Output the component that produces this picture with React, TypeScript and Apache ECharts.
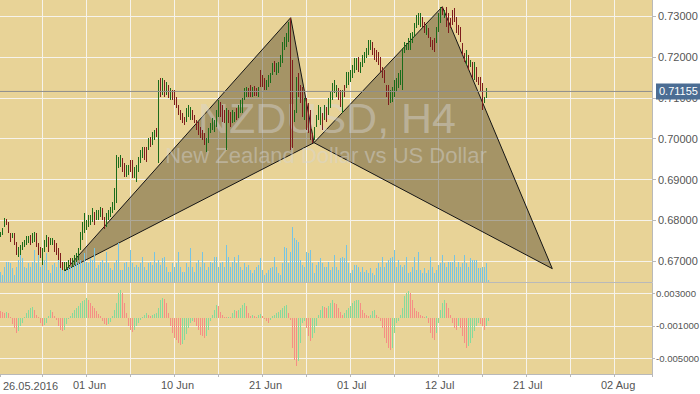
import React, { useEffect, useRef } from "react";
import * as echarts from "echarts";

// ---------------- data (NZDUSD, H4) ----------------
// bar direction: G = up bar, R = down bar (one character per H4 bar)
const barDirection = [
  "GGGRRRGRRG", "GGGGGRGGRR", "RGGGRGGRRR", "RRGGGRGGGG", "GGGGGGGRGG",
  "GRRGGGGGGG", "GRRGGRRGGG", "GGRRGRGGRG", "RGRGRGRRRR", "RRRGGGRRRR",
  "RRRGGGGGGG", "RRRGRRGGRG", "GGGGRRGRRG", "RRRGGGGRGG", "GGGGGRRGGR",
  "RRGRRRRGGG", "GRGRGGGGGR", "RGRGGGGGGR", "GGGGGGRRRR", "RRRRRGGGGG",
  "GGGGGGGGGG", "GRRGRRRRGG", "GRGRRRRRRR", "RRRGRGRGRR", "RRGGG",
].join("");

const barHigh = [
  0.6772, 0.6782, 0.6806, 0.6804, 0.6796, 0.6769, 0.6769, 0.6769, 0.6748, 0.6735,
  0.6740, 0.6748, 0.6753, 0.6762, 0.6762, 0.6765, 0.6769, 0.6772, 0.6769, 0.6745,
  0.6735, 0.6733, 0.6753, 0.6765, 0.6760, 0.6757, 0.6757, 0.6753, 0.6745, 0.6733,
  0.6721, 0.6699, 0.6699, 0.6699, 0.6704, 0.6708, 0.6708, 0.6716, 0.6721, 0.6733,
  0.6772, 0.6796, 0.6818, 0.6801, 0.6814, 0.6814, 0.6831, 0.6821, 0.6826, 0.6826,
  0.6833, 0.6831, 0.6809, 0.6818, 0.6826, 0.6833, 0.6845, 0.6880, 0.6960, 0.6955,
  0.6960, 0.6953, 0.6941, 0.6936, 0.6936, 0.6948, 0.6948, 0.6931, 0.6936, 0.6955,
  0.6972, 0.6980, 0.6980, 0.6980, 0.7002, 0.7004, 0.7016, 0.7021, 0.7026, 0.7143,
  0.7148, 0.7148, 0.7143, 0.7139, 0.7131, 0.7124, 0.7119, 0.7119, 0.7102, 0.7082,
  0.7070, 0.7063, 0.7053, 0.7075, 0.7082, 0.7077, 0.7070, 0.7058, 0.7046, 0.7041,
  0.7029, 0.7021, 0.7014, 0.7002, 0.7026, 0.7038, 0.7051, 0.7046, 0.7070, 0.7095,
  0.7090, 0.7082, 0.7070, 0.7075, 0.7070, 0.7065, 0.7070, 0.7065, 0.7075, 0.7082,
  0.7095, 0.7100, 0.7124, 0.7126, 0.7124, 0.7131, 0.7126, 0.7129, 0.7124, 0.7126,
  0.7168, 0.7156, 0.7148, 0.7143, 0.7156, 0.7161, 0.7185, 0.7190, 0.7185, 0.7188,
  0.7205, 0.7236, 0.7249, 0.7258, 0.7285, 0.7296, 0.7192, 0.7070, 0.7151, 0.7161,
  0.7131, 0.7126, 0.7100, 0.7100, 0.7087, 0.7070, 0.7014, 0.7029, 0.7058, 0.7082,
  0.7077, 0.7063, 0.7082, 0.7077, 0.7100, 0.7114, 0.7136, 0.7143, 0.7131, 0.7124,
  0.7119, 0.7119, 0.7131, 0.7163, 0.7163, 0.7168, 0.7180, 0.7197, 0.7197, 0.7200,
  0.7188, 0.7205, 0.7212, 0.7222, 0.7241, 0.7241, 0.7236, 0.7222, 0.7217, 0.7212,
  0.7200, 0.7175, 0.7168, 0.7131, 0.7131, 0.7119, 0.7126, 0.7143, 0.7148, 0.7161,
  0.7168, 0.7222, 0.7236, 0.7234, 0.7246, 0.7258, 0.7261, 0.7283, 0.7302, 0.7307,
  0.7307, 0.7298, 0.7285, 0.7278, 0.7271, 0.7249, 0.7241, 0.7246, 0.7273, 0.7307,
  0.7322, 0.7322, 0.7315, 0.7322, 0.7307, 0.7295, 0.7315, 0.7320, 0.7298, 0.7278,
  0.7273, 0.7234, 0.7210, 0.7217, 0.7205, 0.7192, 0.7188, 0.7188, 0.7175, 0.7151,
  0.7151, 0.7136, 0.7102, 0.7124, 0.7117,
];

const barLow = [
  0.6760, 0.6765, 0.6784, 0.6789, 0.6769, 0.6748, 0.6757, 0.6740, 0.6716, 0.6711,
  0.6716, 0.6728, 0.6735, 0.6740, 0.6745, 0.6740, 0.6745, 0.6748, 0.6735, 0.6716,
  0.6708, 0.6691, 0.6723, 0.6735, 0.6723, 0.6740, 0.6740, 0.6723, 0.6716, 0.6704,
  0.6684, 0.6679, 0.6677, 0.6679, 0.6684, 0.6691, 0.6686, 0.6691, 0.6699, 0.6704,
  0.6728, 0.6753, 0.6769, 0.6777, 0.6784, 0.6789, 0.6796, 0.6789, 0.6801, 0.6801,
  0.6809, 0.6801, 0.6779, 0.6784, 0.6801, 0.6809, 0.6818, 0.6826, 0.6843, 0.6928,
  0.6931, 0.6919, 0.6906, 0.6906, 0.6911, 0.6919, 0.6904, 0.6904, 0.6894, 0.6919,
  0.6941, 0.6953, 0.6948, 0.6943, 0.6972, 0.6980, 0.6985, 0.6997, 0.7004, 0.6941,
  0.7102, 0.7107, 0.7102, 0.7107, 0.7100, 0.7095, 0.7095, 0.7082, 0.7075, 0.7058,
  0.7046, 0.7038, 0.7034, 0.7041, 0.7053, 0.7046, 0.7046, 0.7038, 0.7021, 0.7009,
  0.7002, 0.6997, 0.6985, 0.6968, 0.6990, 0.7014, 0.7021, 0.7016, 0.7029, 0.7053,
  0.7053, 0.7041, 0.7038, 0.6972, 0.7038, 0.7029, 0.7038, 0.7041, 0.7046, 0.7051,
  0.7063, 0.7063, 0.7095, 0.7102, 0.7102, 0.7102, 0.7102, 0.7104, 0.7104, 0.7102,
  0.7126, 0.7126, 0.7119, 0.7119, 0.7126, 0.7136, 0.7156, 0.7163, 0.7156, 0.7161,
  0.7175, 0.7185, 0.7217, 0.7224, 0.7236, 0.6972, 0.6977, 0.7041, 0.7063, 0.7102,
  0.7087, 0.7053, 0.7046, 0.7021, 0.7014, 0.6997, 0.6990, 0.6997, 0.7029, 0.7046,
  0.7034, 0.7021, 0.7046, 0.7041, 0.7058, 0.7075, 0.7095, 0.7112, 0.7102, 0.7095,
  0.7077, 0.7063, 0.7102, 0.7124, 0.7131, 0.7139, 0.7148, 0.7161, 0.7168, 0.7163,
  0.7161, 0.7175, 0.7185, 0.7197, 0.7205, 0.7217, 0.7205, 0.7192, 0.7188, 0.7180,
  0.7163, 0.7148, 0.7136, 0.7102, 0.7082, 0.7087, 0.7090, 0.7102, 0.7114, 0.7124,
  0.7131, 0.7119, 0.7210, 0.7217, 0.7217, 0.7217, 0.7234, 0.7249, 0.7271, 0.7278,
  0.7273, 0.7273, 0.7258, 0.7254, 0.7246, 0.7224, 0.7217, 0.7212, 0.7234, 0.7261,
  0.7283, 0.7302, 0.7295, 0.7273, 0.7258, 0.7271, 0.7278, 0.7285, 0.7258, 0.7254,
  0.7236, 0.7205, 0.7188, 0.7180, 0.7168, 0.7175, 0.7148, 0.7143, 0.7139, 0.7131,
  0.7114, 0.7070, 0.7087, 0.7100, 0.7115,
];

const tickVolumes = [
  1000, 700, 1500, 2000, 2000, 1900, 1400, 700, 1500, 2200,
  2700, 2400, 1500, 1400, 1900, 1500, 2000, 3200, 1900, 2700,
  1500, 1900, 2200, 2900, 1200, 900, 1700, 1900, 1500, 2200,
  2400, 1700, 1200, 1900, 1400, 1500, 2000, 1900, 2400, 1900,
  2200, 1900, 2900, 2000, 1900, 2400, 2200, 3400, 1400, 1700,
  2000, 2200, 1900, 3000, 1900, 1400, 1200, 1900, 2200, 3900,
  1200, 1200, 1900, 2000, 1500, 3200, 1900, 1500, 1700, 1500,
  1900, 2500, 1500, 1200, 1900, 2000, 1700, 3000, 1900, 2200,
  1700, 2400, 2500, 1500, 1000, 1000, 1900, 1500, 1900, 3000,
  1500, 1000, 1000, 1900, 1500, 3400, 1500, 1000, 1900, 2200,
  1500, 3000, 1900, 1200, 1500, 2000, 1900, 2500, 2500, 1500,
  1900, 2000, 1500, 3700, 2500, 1500, 2000, 2500, 1900, 2700,
  1500, 1200, 1900, 1500, 1700, 1200, 900, 1200, 1500, 1700,
  2400, 1200, 700, 900, 1200, 1400, 1500, 2500, 1500, 900,
  700, 1900, 3500, 3400, 1900, 3000, 5500, 4400, 4200, 4000,
  2200, 1700, 1500, 3000, 2900, 3200, 1900, 900, 1700, 2000,
  2400, 1900, 1500, 1500, 2000, 1200, 1500, 2700, 1500, 1200,
  2400, 2500, 2400, 3700, 1900, 900, 1200, 1700, 1700, 1500,
  1000, 1500, 1000, 1200, 900, 1400, 900, 700, 1400, 1900,
  1500, 2500, 1500, 1900, 2200, 2400, 2500, 3200, 1500, 2200,
  1700, 1500, 1700, 2500, 900, 1000, 1500, 2500, 1200, 3000,
  1200, 900, 1400, 900, 1200, 2500, 1500, 900, 1200, 1700,
  1900, 2700, 1900, 1500, 2000, 2000, 2000, 2700, 1500, 2000,
  1500, 1900, 2700, 1900, 1500, 2400, 2200, 2200, 2200, 1400,
  1400, 1500, 1500, 1900, 200,
];

const oscillator = [
  0.00087, 0.00075, 0.00062, 0.00075, 0.00062, 0.00012, -0.00075, -0.00124, -0.00186, -0.00161,
  -0.00099, -0.00062, 0.00012, 0.00062, 0.00099, 0.00124, 0.00137, 0.00099, 0.00037, 0.00012,
  -0.00062, -0.00099, -0.00087, -0.00062, 0.00025, 0.00099, 0.00075, 0.00025, -0.00025, -0.00099,
  -0.00149, -0.00161, -0.00149, -0.00075, -0.00012, 0.00025, 0.00062, 0.00099, 0.00124, 0.00149,
  0.00186, 0.00211, 0.00224, 0.00248, 0.00224, 0.00186, 0.00149, 0.00124, 0.00087, 0.0005,
  0.00025, -0.00037, -0.00075, -0.00087, -0.00075, -0.0005, 0.00025, 0.00099, 0.00186, 0.00311,
  0.00348, 0.00311, 0.00186, 0.00062, -0.00099, -0.00149, -0.00174, -0.00149, -0.00099, -0.00062,
  -0.00025, 0.00012, 0.00037, 0.00062, 0.00037, 0.00025, 0.00037, 0.0005, 0.00062, 0.00124,
  0.00224, 0.00248, 0.00236, 0.00186, 0.00062, -0.00099, -0.00186, -0.00248, -0.00273, -0.00311,
  -0.00335, -0.00323, -0.00273, -0.00199, -0.00124, -0.00062, -0.00037, -0.0005, -0.00099, -0.00149,
  -0.00211, -0.00224, -0.00248, -0.00224, -0.00149, -0.00037, 0.00037, 0.00099, 0.00161, 0.00149,
  0.00075, 0.00037, 0.00012, 0.00006, 0.00012, 0.00006, 0.00062, 0.00099, 0.00087, 0.00099,
  0.00124, 0.00161, 0.00186, 0.00149, 0.00062, 0.00025, 0.00037, 0.00025, 0.00012, 0.00037,
  0.0005, 0.00025, -0.00012, -0.00037, -0.00062, -0.00025, 0.00025, 0.00037, 0.00062, 0.00075,
  0.00099, 0.00124, 0.00149, 0.00161, 0.00062, -0.00025, -0.00373, -0.00522, -0.00596, -0.00534,
  -0.00311, -0.00062, -0.00037, -0.00124, -0.00224, -0.00286, -0.00248, -0.00186, -0.00099, 0.00037,
  0.00099, 0.00149, 0.00137, 0.00124, 0.00149, 0.00186, 0.00224, 0.00186, 0.00174, 0.00124,
  0.00075, 0.00037, 0.00062, 0.00099, 0.00124, 0.00149, 0.00186, 0.00211, 0.00224, 0.00224,
  0.00186, 0.00099, 0.00062, 0.00037, 0.00025, 0.00037, 0.00087, 0.00099, 0.00037, 0.00012,
  -0.00037, -0.00124, -0.00248, -0.00311, -0.00373, -0.00397, -0.00373, -0.00186, -0.00062, -0.00037,
  0.00037, 0.00124, 0.00273, 0.00311, 0.00335, 0.00311, 0.00224, 0.00124, 0.00087, 0.00075,
  0.00037, 0.00025, 0.00012, 0.00025, -0.00062, -0.00186, -0.00248, -0.00273, -0.00186, -0.00062,
  0.00099, 0.00186, 0.00224, 0.00186, 0.00124, 0.00037, -0.00062, -0.00124, -0.00149, -0.00099,
  -0.00124, -0.00224, -0.00311, -0.00373, -0.00348, -0.00311, -0.00248, -0.00161, -0.00099, -0.00062,
  -0.00075, -0.00099, -0.00149, -0.00099, -0.00037,
];

const lastPrice = 0.71155;
// harmonic pattern X, A, B, C, D: bar position and price
const patternBars = [32.5, 145.35, 157, 221.15, 276.15];
const patternPrices = [0.66773, 0.72958, 0.69902, 0.73227, 0.66822];
const patternTriangles = [[0, 1, 2], [2, 3, 4]];

// time axis labels (axis units: bar slots)
const dateTicks = [44, 88, 132, 176, 220, 264, 308];
const dateLabels = ["01 Jun", "10 Jun", "21 Jun", "01 Jul", "12 Jul", "21 Jul", "02 Aug"];
const firstDate = "26.05.2016";
const symbolTitle = "NZDUSD, H4";
const symbolDescription = "New Zealand Dollar vs US Dollar";

// ---------------- layout / style ----------------
const SLOT = 1; // bar i sits at axis value i + SLOT
const X_MIN = 1;
const X_MAX = 327;
const LABEL_SHIFT = 6.5; // date labels start a little left of their grid line
const PRICE_MIN = 0.66496;
const PRICE_MAX = 0.73391;
const OSC_MIN = -0.006982;
const OSC_MAX = 0.004323;
const OSC_SHIFT = 0.001;

const FONT = '"Liberation Sans", Arial, Helvetica, sans-serif';
const AXIS_TEXT = "#555555";
const AXIS_LINE = "#b9b9b9";
const PLOT_BG = "#e8d397";
const GRID_LINE = "#f6f3ec";
const UP = "#1b6c1b";
const DOWN = "#7e1d1d";
const VOL = "#76c4e4";
const OSC_UP = "#86da9c";
const OSC_DOWN = "#f58e85";

function buildOption(): any {
  const split = {
    show: true,
    showMinLine: false,
    showMaxLine: false,
    lineStyle: { color: GRID_LINE, width: 1 },
  };
  const axisLine = { show: true, onZero: false, lineStyle: { color: AXIS_LINE, width: 1 } };
  const labelStyle = { color: AXIS_TEXT, fontSize: 11, fontFamily: FONT };
  const gridBase = { left: 0, right: 48, outerBoundsMode: "none", containLabel: false };

  const barData = barHigh.map((h, i) => [i + SLOT, barLow[i], h, barDirection[i] === "G" ? 1 : 0]);
  const volData = tickVolumes.map((v, i) => [i + SLOT, v]);
  const oscData = oscillator.map((v, i) => [i + SLOT, v, i > 0 && v >= oscillator[i - 1] ? 1 : 0]);

  return {
    animation: false,
    backgroundColor: "#ffffff",
    textStyle: { fontFamily: FONT },
    grid: [
      { ...gridBase, top: 0, height: 282, show: true, backgroundColor: PLOT_BG, borderWidth: 0 },
      { ...gridBase, top: 182, height: 100, show: false },
      { ...gridBase, top: 283, height: 91, show: true, backgroundColor: PLOT_BG, borderWidth: 0 },
    ],
    xAxis: [
      {
        type: "value", gridIndex: 0, min: X_MIN, max: X_MAX, minInterval: 22, maxInterval: 22,
        position: "bottom",
        axisLine, axisTick: { show: false }, axisLabel: { show: false }, splitLine: split,
      },
      { type: "value", gridIndex: 1, min: X_MIN, max: X_MAX, show: false },
      {
        type: "value", gridIndex: 2, min: X_MIN, max: X_MAX, minInterval: 22, maxInterval: 22,
        position: "bottom",
        axisLine, axisTick: { show: true, length: 3, lineStyle: { color: AXIS_LINE } },
        axisLabel: { show: false }, splitLine: split,
      },
      {
        type: "value", gridIndex: 2, min: X_MIN + LABEL_SHIFT, max: X_MAX + LABEL_SHIFT,
        minInterval: 22, maxInterval: 22, position: "bottom",
        axisLine: { show: false, onZero: false }, axisTick: { show: false }, splitLine: { show: false },
        axisLabel: {
          ...labelStyle, align: "left", margin: 5, showMinLabel: false, showMaxLabel: false,
          formatter: (v: number) => {
            const k = dateTicks.findIndex((t) => Math.abs(t - v) < 1e-6);
            return k >= 0 ? dateLabels[k] : "";
          },
        },
      },
    ],
    yAxis: [
      {
        type: "value", gridIndex: 0, position: "right", min: PRICE_MIN, max: PRICE_MAX,
        minInterval: 0.01, maxInterval: 0.01, splitNumber: 6,
        axisLine, axisTick: { show: true, length: 4, lineStyle: { color: AXIS_LINE } },
        axisLabel: {
          ...labelStyle, margin: 6, showMinLabel: false, showMaxLabel: false,
          formatter: (v: number) => v.toFixed(5),
        },
        splitLine: split,
      },
      { type: "value", gridIndex: 1, min: 0, max: 10000, show: false },
      { type: "value", gridIndex: 2, position: "left", min: OSC_MIN, max: OSC_MAX, show: false },
      {
        type: "value", gridIndex: 2, position: "right", min: OSC_MIN + OSC_SHIFT, max: OSC_MAX + OSC_SHIFT,
        minInterval: 0.004, maxInterval: 0.004,
        axisLine, axisTick: { show: true, length: 3, lineStyle: { color: AXIS_LINE } },
        axisLabel: {
          ...labelStyle, fontSize: 9.6, margin: 4, showMinLabel: false, showMaxLabel: false,
          formatter: (v: number) => (v - OSC_SHIFT).toFixed(6),
        },
        splitLine: split,
      },
    ],
    graphic: [
      {
        type: "text", x: 327, y: 118, z: 2, silent: true,
        style: {
          text: symbolTitle, font: `43px ${FONT}`, fill: "rgba(214,214,214,0.45)",
          align: "center", verticalAlign: "middle",
        },
      },
      {
        type: "text", x: 326, y: 155, z: 2, silent: true,
        style: {
          text: symbolDescription, font: `22px ${FONT}`, fill: "rgba(214,214,214,0.45)",
          align: "center", verticalAlign: "middle",
        },
      },
      {
        type: "text", x: 3, y: 385.5, z: 5, silent: true,
        style: { text: firstDate, font: `11px ${FONT}`, fill: AXIS_TEXT, align: "left", verticalAlign: "middle" },
      },
    ],
    series: [
      {
        type: "custom", name: "pattern", xAxisIndex: 0, yAxisIndex: 0, z: 1, silent: true,
        data: patternTriangles,
        renderItem: (params: any, api: any) => {
          const ids = patternTriangles[params.dataIndex];
          const pts = ids.map((j) => api.coord([patternBars[j] + SLOT, patternPrices[j]]));
          return {
            type: "polygon",
            shape: { points: pts },
            style: { fill: "rgba(66,54,30,0.4)", stroke: "#151515", lineWidth: 1 },
          };
        },
      },
      {
        type: "custom", name: "Volumes", xAxisIndex: 1, yAxisIndex: 1, z: 3, silent: true,
        data: volData, encode: { x: 0, y: 1 },
        renderItem: (params: any, api: any) => {
          const x = api.value(0);
          const base = api.coord([x, 0]);
          const top = api.coord([x, api.value(1)]);
          const px = Math.round(base[0]);
          const y0 = Math.round(base[1]);
          const y1 = Math.round(top[1]);
          return {
            type: "rect",
            shape: { x: px, y: y1, width: 1, height: Math.max(1, y0 - y1) },
            style: { fill: VOL },
          };
        },
      },
      {
        type: "custom", name: "NZDUSD", xAxisIndex: 0, yAxisIndex: 0, z: 4, silent: true,
        data: barData, encode: { x: 0, y: [1, 2] },
        renderItem: (params: any, api: any) => {
          const x = api.value(0);
          const lo = api.coord([x, api.value(1)]);
          const hi = api.coord([x, api.value(2)]);
          const up = api.value(3) === 1;
          const px = Math.round(lo[0]);
          const top = Math.round(hi[1]);
          const bot = Math.round(lo[1]);
          return {
            type: "rect",
            shape: { x: px, y: top, width: 1, height: Math.max(1, bot - top) },
            style: { fill: up ? UP : DOWN },
          };
        },
      },
      {
        type: "line", name: "last", xAxisIndex: 0, yAxisIndex: 0, z: 5, silent: true,
        data: [[X_MIN, lastPrice], [X_MAX, lastPrice]],
        symbol: "none",
        lineStyle: { color: "#8e8e8e", width: 1 },
        endLabel: {
          show: true, formatter: lastPrice.toFixed(5), color: "#ffffff", backgroundColor: "#4b6d94",
          padding: [3, 3, 2, 3], fontSize: 11, fontFamily: FONT, distance: 4,
        },
      },
      {
        type: "custom", name: "oscillator", xAxisIndex: 2, yAxisIndex: 2, z: 3, silent: true,
        data: oscData, encode: { x: 0, y: 1 },
        renderItem: (params: any, api: any) => {
          const x = api.value(0);
          const v = api.value(1);
          const base = api.coord([x, 0]);
          const end = api.coord([x, v]);
          const px = Math.round(base[0]);
          const y0 = Math.round(base[1]);
          const y1 = Math.round(end[1]);
          const h = Math.max(1, Math.abs(y1 - y0));
          return {
            type: "rect",
            shape: { x: px, y: v >= 0 ? y0 - h : y0, width: 1, height: h },
            style: { fill: api.value(2) === 1 ? OSC_UP : OSC_DOWN },
          };
        },
      },
    ],
  };
}

export default function App() {
  const ref = useRef<HTMLDivElement>(null);
  useEffect(() => {
    if (!ref.current) return;
    const chart = echarts.init(ref.current, null, { renderer: "svg" });
    chart.setOption(buildOption());
    return () => {
      chart.dispose();
    };
  }, []);
  return (
    <div
      ref={ref}
      style={{ position: "fixed", left: 0, top: 0, width: 700, height: 394, background: "#ffffff" }}
    />
  );
}
